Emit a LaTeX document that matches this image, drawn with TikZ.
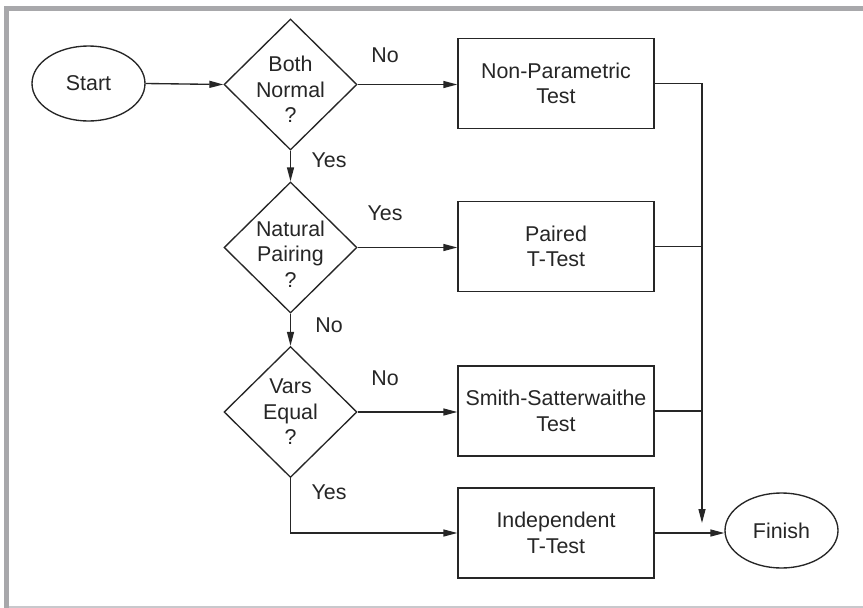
\documentclass[tikz,border=0pt]{standalone}
\usepackage{fontspec}
\setmainfont{Liberation Sans}
\usetikzlibrary{shapes.geometric,arrows.meta}
\begin{document}
\begin{tikzpicture}[x=1pt,y=-1pt,
  every node/.style={font=\fontsize{21.4}{25.5}\selectfont, text=black!85},
  ln/.style={line width=1.35pt, draw=black!85},
  arr/.style={ln, -{Triangle[length=14pt,width=7pt]}},
  term/.style={ellipse, draw=black!85, line width=1.35pt, minimum width=113pt, minimum height=75pt, inner sep=0pt},
  dia/.style={diamond, draw=black!85, line width=1.35pt, minimum width=133pt, minimum height=131pt, inner sep=0pt},
  box/.style={rectangle, draw=black!85, line width=1.35pt, minimum width=196pt, minimum height=90pt, align=center, inner sep=0pt},
  txt/.style={align=center, inner sep=0pt},
  lab/.style={inner sep=0pt}]
\useasboundingbox (0,0) rectangle (863,608);
% frame
\fill[white] (0,0) rectangle (863,608);
\fill[color={rgb,255:red,168;green,168;blue,171}] (4,6) rectangle (863,11);
\fill[color={rgb,255:red,168;green,168;blue,171}] (4,6) rectangle (9,608);
\fill[color={rgb,255:red,200;green,200;blue,204}] (9,606) rectangle (863,607.5);

% nodes
\node[term] (start) at (88.5,83.5) {Start};
\node[dia] (d1) at (290.5,84.5) {};
\node[txt] (t1) at (290.5,89.5) {Both\\Normal\\?};
\node[dia] (d2) at (290.5,247.5) {};
\node[txt] (t2) at (290.5,254) {Natural\\Pairing\\?};
\node[dia] (d3) at (290.5,412) {};
\node[txt] (t3) at (290.5,412) {Vars\\Equal\\?};

\node[box] (b1) at (556,83.5) {Non-Parametric\\Test};
\node[box] (b2) at (556,246.5) {Paired\\T-Test};
\node[box] (b3) at (556,411) {Smith-Satterwaithe\\Test};
\node[box] (b4) at (556,533) {Independent\\T-Test};
\node[term] (fin) at (781.5,530.5) {Finish};

\coordinate (bus) at (702,83.5);
\coordinate (busend) at (702,523);

% connectors
\draw[arr] (start.east) -- (d1.west);
\draw[arr] (d1.east) -- (d1.east -| b1.west);
\draw[arr] (d1.south) -- (d2.north);
\draw[arr] (d2.east) -- (d2.east -| b2.west);
\draw[arr] (d2.south) -- (d3.north);
\draw[arr] (d3.east) -- (d3.east -| b3.west);
\draw[arr] (d3.south) |- (b4.west);
\draw[arr] (b1.east) -- (bus) -- (busend);
\draw[ln] (b2.east) -- (bus |- b2.east);
\draw[ln] (b3.east) -- (bus |- b3.east);
\draw[arr] (b4.east) -- (b4.east -| fin.west);

% labels
\node[lab] (l1) at (385,55) {No};
\node[lab] (l2) at (329,160) {Yes};
\node[lab] (l3) at (385,213) {Yes};
\node[lab] (l4) at (329,325) {No};
\node[lab] (l5) at (385,378) {No};
\node[lab] (l6) at (329,492) {Yes};
\end{tikzpicture}
\end{document}
